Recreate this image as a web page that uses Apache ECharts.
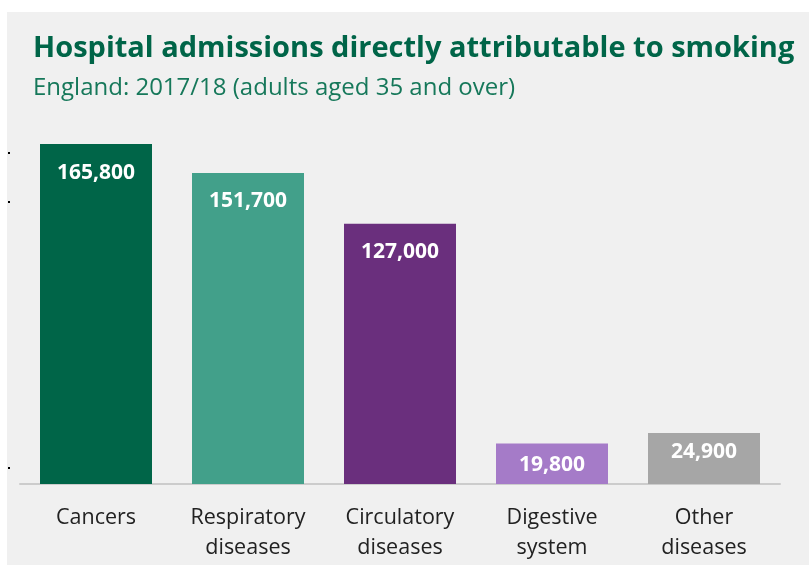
<!DOCTYPE html>
<html lang="en">
<head>
  <meta charset="UTF-8">
  <script src="https://cdn.jsdelivr.net/npm/echarts@6/dist/echarts.min.js"></script>
  <style>
    * { margin: 0; padding: 0; }
    html, body { width: 100%; height: 100%; background: #ffffff; }
    #chart { width: 809px; height: 565px; }
  </style>
</head>
<body>
<div id="chart"></div>
<script>
  var categories = ['Cancers', 'Respiratory\ndiseases', 'Circulatory\ndiseases', 'Digestive\nsystem', 'Other\ndiseases'];
  var admissions = [165800, 151700, 127000, 19800, 24900];
  var barColors = ['#006548', '#42a08a', '#6a2f7d', '#a57bc8', '#a6a6a6'];
  // small bars get their label nearer the top
  var labelDistance = [18, 18, 18, 11, 9];

  var chart = echarts.init(document.getElementById('chart'));

  var option = {
    backgroundColor: '#ffffff',
    animation: false,
    graphic: [
      { type: 'rect', left: 7, top: 12, shape: { width: 802, height: 553 }, style: { fill: '#f0f0f0' }, z: -10 },
      // stray tick marks on the left edge
      { type: 'rect', left: 8, top: 152, shape: { width: 2, height: 2 }, style: { fill: '#000' } },
      { type: 'rect', left: 8, top: 201, shape: { width: 2, height: 2 }, style: { fill: '#000' } },
      { type: 'rect', left: 8, top: 467, shape: { width: 2, height: 2 }, style: { fill: '#000' } }
    ],
    title: [{
      text: 'Hospital admissions directly attributable to smoking',
      left: 28,
      top: 29,
      textStyle: { fontFamily: 'Open Sans', fontWeight: 'bold', fontSize: 29, color: '#006548' }
    }, {
      text: 'England: 2017/18 (adults aged 35 and over)',
      left: 28,
      top: 71,
      textStyle: { fontFamily: 'Open Sans', fontWeight: 'normal', fontSize: 24, color: '#16785a' }
    }],
    grid: { left: 20, right: 29, top: 74, bottom: 81, containLabel: false },
    xAxis: {
      type: 'category',
      data: categories,
      axisLine: { lineStyle: { color: '#cccccc', width: 2 } },
      axisTick: { show: false },
      axisLabel: {
        interval: 0,
        hideOverlap: false,
        margin: 19,
        fontFamily: 'Open Sans',
        fontSize: 21.5,
        lineHeight: 30,
        color: '#222222'
      }
    },
    yAxis: {
      type: 'value',
      min: 0,
      max: 200000,
      show: false
    },
    series: [{
      type: 'bar',
      barWidth: 112,
      data: admissions.map(function (v, i) {
        return {
          value: v,
          itemStyle: { color: barColors[i] },
          label: { distance: labelDistance[i] }
        };
      }),
      label: {
        show: true,
        position: 'insideTop',
        fontFamily: 'Open Sans',
        fontWeight: 'bold',
        fontSize: 21,
        color: '#ffffff',
        formatter: function (p) { return p.value.toLocaleString('en-GB'); }
      }
    }]
  };

  chart.setOption(option);
</script>
</body>
</html>
